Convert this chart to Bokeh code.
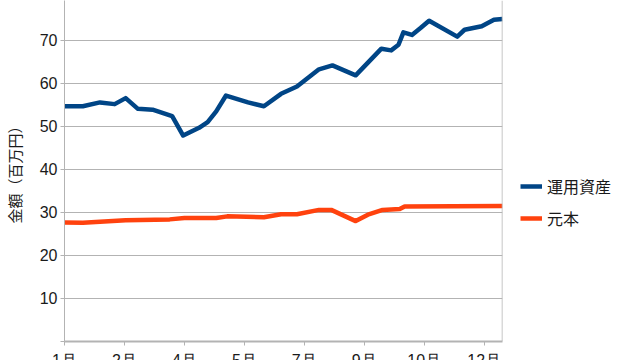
from bokeh.plotting import figure
from bokeh.models import FixedTicker, Legend, LegendItem, Span
from bokeh.embed import file_html
from bokeh.resources import INLINE

# --- data (day of year offset from Jan 1) ---
asset_days = [0, 15, 29, 41, 50, 60, 72, 88, 97, 110, 117, 124, 132, 150, 163, 177, 190, 208,
              219, 238, 259, 267, 273, 277, 284, 291, 298, 321, 327, 341, 351, 358]
assets = [54.7, 54.7, 55.6, 55.2, 56.6, 54.1, 53.9, 52.4, 47.9, 49.7, 51.0, 53.5, 57.2, 55.6,
          54.7, 57.6, 59.3, 63.3, 64.2, 61.9, 68.1, 67.7, 69.0, 71.9, 71.3, 72.9, 74.6, 70.9,
          72.5, 73.3, 74.8, 75.0]
principal_days = [0, 15, 50, 86, 98, 124, 133, 163, 177, 190, 208, 218, 238, 248, 260, 274, 278, 358]
principal = [27.7, 27.6, 28.2, 28.4, 28.7, 28.7, 29.1, 28.9, 29.6, 29.6, 30.6, 30.6, 28.0, 29.5,
             30.6, 30.8, 31.4, 31.5]
x_tick_days = [0, 49, 98, 147, 196, 245, 294, 343]
x_tick_labels = ["1月", "2月", "4月", "5月", "7月", "9月", "10月", "12月"]
y_ticks = [0, 10, 20, 30, 40, 50, 60, 70, 80]
y_tick_labels = ["", "10", "20", "30", "40", "50", "60", "70", "80"]
series_names = ["運用資産", "元本"]

BLUE = "#004586"
ORANGE = "#ff420e"
GRID = "#b3b3b3"
TXT = "#1a1a1a"
FONT = "Liberation Sans"

p = figure(frame_width=438, frame_height=341, x_range=(0, 358), y_range=(0, 79.3),
           output_backend="svg", toolbar_location=None,
           min_border_top=0, min_border_left=57, min_border_right=0, min_border_bottom=0)
p.outline_line_color = None
p.background_fill_color = "white"

r1 = p.line(asset_days, assets, line_color=BLUE, line_width=4.5, line_join="round")
r2 = p.line(principal_days, principal, line_color=ORANGE, line_width=4.5, line_join="round")

p.xgrid.visible = False
p.ygrid.grid_line_color = GRID
p.ygrid.grid_line_width = 1
p.ygrid.ticker = FixedTicker(ticks=y_ticks)

p.yaxis.ticker = FixedTicker(ticks=y_ticks)
p.yaxis.major_label_overrides = {t: l for t, l in zip(y_ticks, y_tick_labels)}
p.yaxis.minor_tick_line_color = None
p.yaxis.major_tick_out = 4
p.yaxis.major_tick_in = 0
p.yaxis.major_tick_line_color = GRID
p.yaxis.axis_line_color = GRID
p.yaxis.major_label_standoff = 3
p.yaxis.major_label_text_font = FONT
p.yaxis.major_label_text_font_size = "16px"
p.yaxis.major_label_text_color = TXT
p.yaxis.axis_label = "金額（百万円）"
p.yaxis.axis_label_text_font = "Noto Sans CJK JP"
p.yaxis.axis_label_text_font_style = "normal"
p.yaxis.axis_label_text_font_size = "15px"
p.yaxis.axis_label_text_color = TXT
p.yaxis.axis_label_standoff = 12

p.xaxis.ticker = FixedTicker(ticks=x_tick_days)
p.xaxis.major_label_overrides = {t: l for t, l in zip(x_tick_days, x_tick_labels)}
p.xaxis.minor_tick_line_color = None
p.xaxis.major_tick_out = 4
p.xaxis.major_tick_in = 0
p.xaxis.major_tick_line_color = GRID
p.xaxis.axis_line_color = GRID
p.xaxis.axis_line_width = 2
p.xaxis.major_label_text_font = FONT
p.xaxis.major_label_text_font_size = "16px"
p.xaxis.major_label_text_color = TXT
p.xaxis.major_label_standoff = 6

p.add_layout(Span(location=358, dimension="height", line_color=GRID, line_width=1.5))

legend = Legend(items=[LegendItem(label=series_names[0], renderers=[r1]),
                       LegendItem(label=series_names[1], renderers=[r2])],
                location=(18, 111), glyph_width=22, glyph_height=16, label_standoff=5,
                spacing=8, padding=0, margin=0, border_line_color=None,
                background_fill_alpha=0, label_text_font="Noto Sans CJK JP",
                label_text_font_size="16px", label_text_color=TXT)
p.add_layout(legend, "right")

open("out.html", "w").write(file_html(p, INLINE))
